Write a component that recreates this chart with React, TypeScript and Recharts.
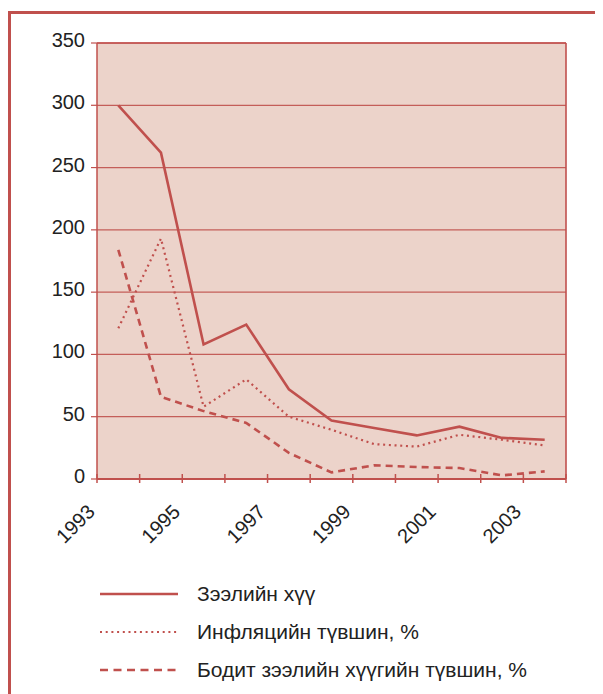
import React from 'react';
import { LineChart, Line, XAxis, YAxis, CartesianGrid, ReferenceLine, Legend } from 'recharts';

const years = ['1993', '1994', '1995', '1996', '1997', '1998', '1999', '2000', '2001', '2002', '2003'];
const loanRate = [300, 262, 108, 124, 72, 47, 41, 35, 42, 33, 31.5];
const inflation = [121, 193, 58, 80, 50, 39.5, 28, 26, 35.5, 31.5, 27];
const realRate = [184, 66, 54.5, 45, 21, 5.3, 11, 9.6, 8.8, 2.9, 6.1];
const yTicks = [0, 50, 100, 150, 200, 250, 300, 350];
const labelledYears = ['1993', '1995', '1997', '1999', '2001', '2003'];

const seriesNames = ['Зээлийн хүү', 'Инфляцийн түвшин, %', 'Бодит зээлийн хүүгийн түвшин, %'];

const RED = '#c0504d';
const FONT = '"Liberation Sans", Arial, sans-serif';

// each year occupies one unit; its value sits in the middle of that unit
const data = years.map((y, i) => ({
  x: i + 0.5,
  year: y,
  loan: loanRate[i],
  infl: inflation[i],
  real: realRate[i],
}));
const xBoundaries = Array.from({ length: years.length + 1 }, (_, i) => i);

const series = [
  { key: 'loan', name: seriesNames[0], dash: undefined as string | undefined, legendDash: undefined as string | undefined, width: 2.6 },
  { key: 'infl', name: seriesNames[1], dash: '2 3.7', legendDash: '2 3.7', width: 2.2 },
  { key: 'real', name: seriesNames[2], dash: '7 5', legendDash: '8 5.5', width: 2.6 },
];

const XTick = (props: any) => {
  const { x, y, payload } = props;
  const idx = payload.value as number;
  const label = years[idx];
  const show = label !== undefined && labelledYears.includes(label);
  const ax = x - 1;
  const ay = y + 34;
  return (
    <g>
      <line x1={x} x2={x} y1={y - 5} y2={y + 4} stroke={RED} strokeWidth={1.5} />
      {show && (
        <text
          x={ax}
          y={ay}
          transform={`rotate(-45, ${ax}, ${ay})`}
          textAnchor="end"
          fontSize={20}
          fontFamily={FONT}
          fill="#222"
        >
          {label}
        </text>
      )}
    </g>
  );
};

const YTick = (props: any) => {
  const { x, y, payload } = props;
  return (
    <text x={x} y={y + 4} textAnchor="end" fontSize={20} fontFamily={FONT} fill="#222">
      {payload.value}
    </text>
  );
};

const LegendContent = () => (
  <div style={{ fontFamily: FONT, fontSize: 21, color: '#222' }}>
    {series.map((s) => (
      <div key={s.key} style={{ display: 'flex', alignItems: 'center', height: 38 }}>
        <svg width={78} height={10} style={{ display: 'block' }}>
          <line
            x1={0}
            x2={78}
            y1={5}
            y2={5}
            stroke={RED}
            strokeWidth={s.width}
            strokeDasharray={s.legendDash}
          />
        </svg>
        <span style={{ marginLeft: 19, lineHeight: '24px', whiteSpace: 'nowrap' }}>{s.name}</span>
      </div>
    ))}
  </div>
);

export default function App() {
  return (
    <div style={{ position: 'relative', width: 595, height: 686 }}>
      <div
        style={{
          position: 'absolute',
          left: 0,
          top: 3,
          width: 595,
          height: 683,
          boxSizing: 'border-box',
          borderLeft: `3px solid ${RED}`,
          borderTop: `3px solid ${RED}`,
        }}
      />
      <div style={{ position: 'absolute', left: -8, top: -8 }}>
        <LineChart
          width={603}
          height={694}
          data={data}
          margin={{ top: 43, right: 37, left: 0, bottom: 185 }}
        >
          <CartesianGrid
            vertical={false}
            horizontal={true}
            fill="#ecd3ca"
            stroke={RED}
            strokeWidth={1.2}
            strokeOpacity={0.9}
          />
          <XAxis
            dataKey="x"
            type="number"
            domain={[0, years.length]}
            ticks={xBoundaries}
            interval={0}
            height={30}
            tickSize={0}
            tickMargin={0}
            tickLine={false}
            axisLine={{ stroke: RED, strokeWidth: 2 }}
            tick={<XTick />}
            allowDecimals={false}
          />
          <YAxis
            type="number"
            domain={[0, 350]}
            ticks={yTicks}
            interval={0}
            width={97}
            tickSize={6}
            tickMargin={6}
            tickLine={{ stroke: RED, strokeWidth: 1.2 }}
            axisLine={{ stroke: RED, strokeWidth: 1.5 }}
            tick={<YTick />}
          />
          <ReferenceLine y={350} stroke={RED} strokeWidth={2} strokeOpacity={0.8} />
          <ReferenceLine x={years.length} stroke={RED} strokeWidth={2} strokeOpacity={0.8} />
          {series.map((s) => (
            <Line
              key={s.key}
              type="linear"
              dataKey={s.key}
              name={s.name}
              stroke={RED}
              strokeWidth={s.width}
              strokeDasharray={s.dash}
              dot={false}
              activeDot={false}
              isAnimationActive={false}
            />
          ))}
          <Legend
            layout="horizontal"
            verticalAlign="middle"
            align="center"
            content={<LegendContent />}
            wrapperStyle={{ position: 'absolute', left: 100, top: 575, width: 440, height: 120 }}
          />
        </LineChart>
      </div>
    </div>
  );
}
